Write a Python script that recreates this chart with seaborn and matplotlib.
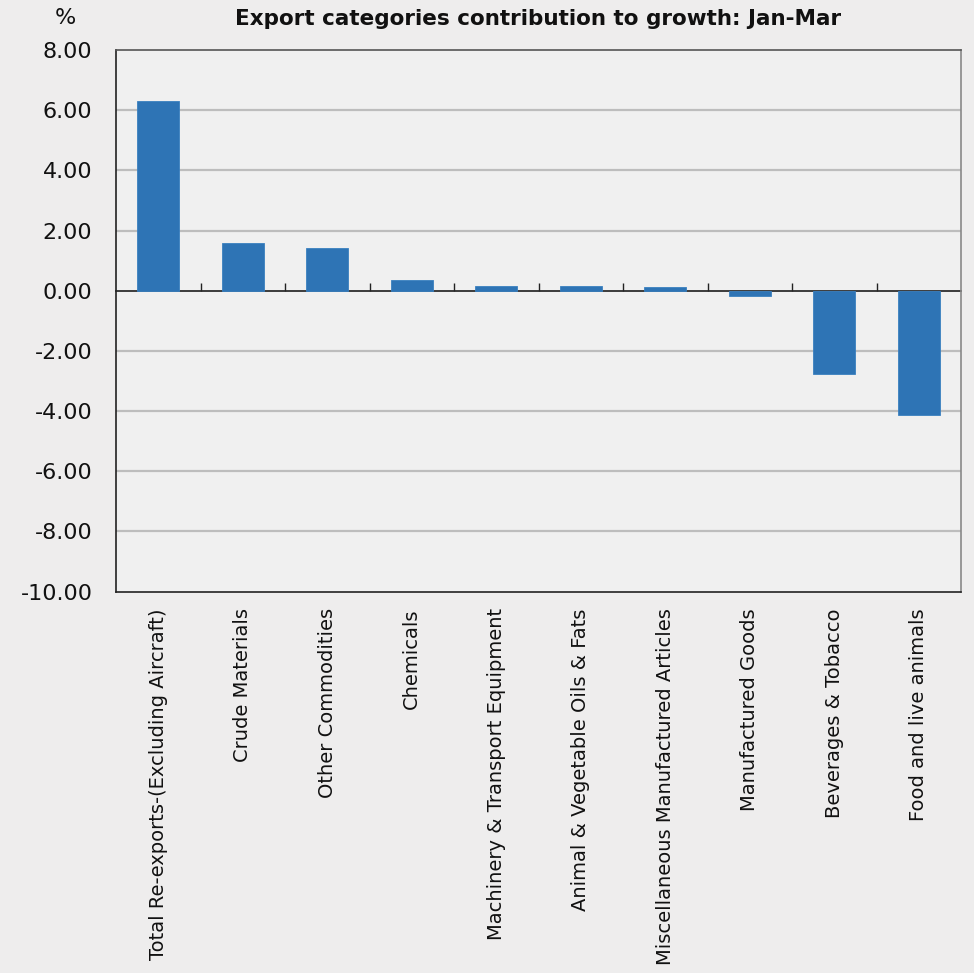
import matplotlib
matplotlib.use("Agg")
import matplotlib.pyplot as plt
import seaborn as sns
import pandas as pd

categories = [
    "Total Re-exports-(Excluding Aircraft)",
    "Crude Materials",
    "Other Commodities",
    "Chemicals",
    "Machinery & Transport Equipment",
    "Animal & Vegetable Oils & Fats",
    "Miscellaneous Manufactured Articles",
    "Manufactured Goods",
    "Beverages & Tobacco",
    "Food and live animals",
]
values = [6.30, 1.60, 1.43, 0.36, 0.17, 0.145, 0.12, -0.18, -2.78, -4.14]
y_ticks = [8, 6, 4, 2, 0, -2, -4, -6, -8, -10]
title = "Export categories contribution to growth: Jan-Mar"
unit = "%"

df = pd.DataFrame({"category": categories, "value": values})

sns.set_theme(style="white")
narrow = ["Liberation Sans Narrow", "DejaVu Sans Condensed", "DejaVu Sans"]

fig = plt.figure(figsize=(9.74, 9.73), dpi=100, facecolor="#eeeded")
ax = fig.add_axes([0.1191, 0.3919, 0.8676, 0.5567])
ax.set_facecolor("#f0f0f0")

sns.barplot(data=df, x="category", y="value", color="#2E74B5", saturation=1,
            width=0.5, ax=ax, zorder=3, edgecolor="#3a80c0", linewidth=0.6)

ax.set_ylim(-10, 8)
ax.set_xlim(-0.5, len(categories) - 0.5)
ax.set_yticks(y_ticks)
ax.set_yticklabels([f"{v:.2f}" for v in y_ticks], family=narrow, fontsize=16, color="#111111")
ax.tick_params(axis="y", length=0, pad=17)
ax.tick_params(axis="x", length=0, pad=12)
ax.set_xticks(range(len(categories)))
ax.set_xticklabels(categories, rotation=90, fontsize=14, family="DejaVu Sans",
                   color="#111111", va="top", ha="center")
ax.set_xlabel("")
ax.set_ylabel("")

for v in y_ticks:
    if v not in (0, 8, -10):
        ax.axhline(v, color="#bdbdbd", lw=1.6, zorder=1)

for s in ax.spines.values():
    s.set_visible(True)
    s.set_color("#222222")
    s.set_linewidth(1.2)
ax.spines["top"].set_color("#555555")
ax.spines["right"].set_color("#888888")

# zero axis line with category-boundary tick marks
sec = ax.secondary_xaxis(10 / 18)
sec.set_xticks([i + 0.5 for i in range(len(categories) - 1)])
sec.set_xticklabels([])
sec.tick_params(axis="x", direction="out", length=6, width=1, color="#222222")
sec.spines["bottom"].set_color("#111111")
sec.spines["bottom"].set_linewidth(1.2)

ax.set_title(title, fontsize=15.5, fontweight="bold", family=narrow, pad=18, color="#111111")
fig.text(0.067, 0.982, unit, fontsize=16, family=narrow, ha="center", va="center", color="#111111")

fig.savefig("out.png", dpi=100, facecolor=fig.get_facecolor())
